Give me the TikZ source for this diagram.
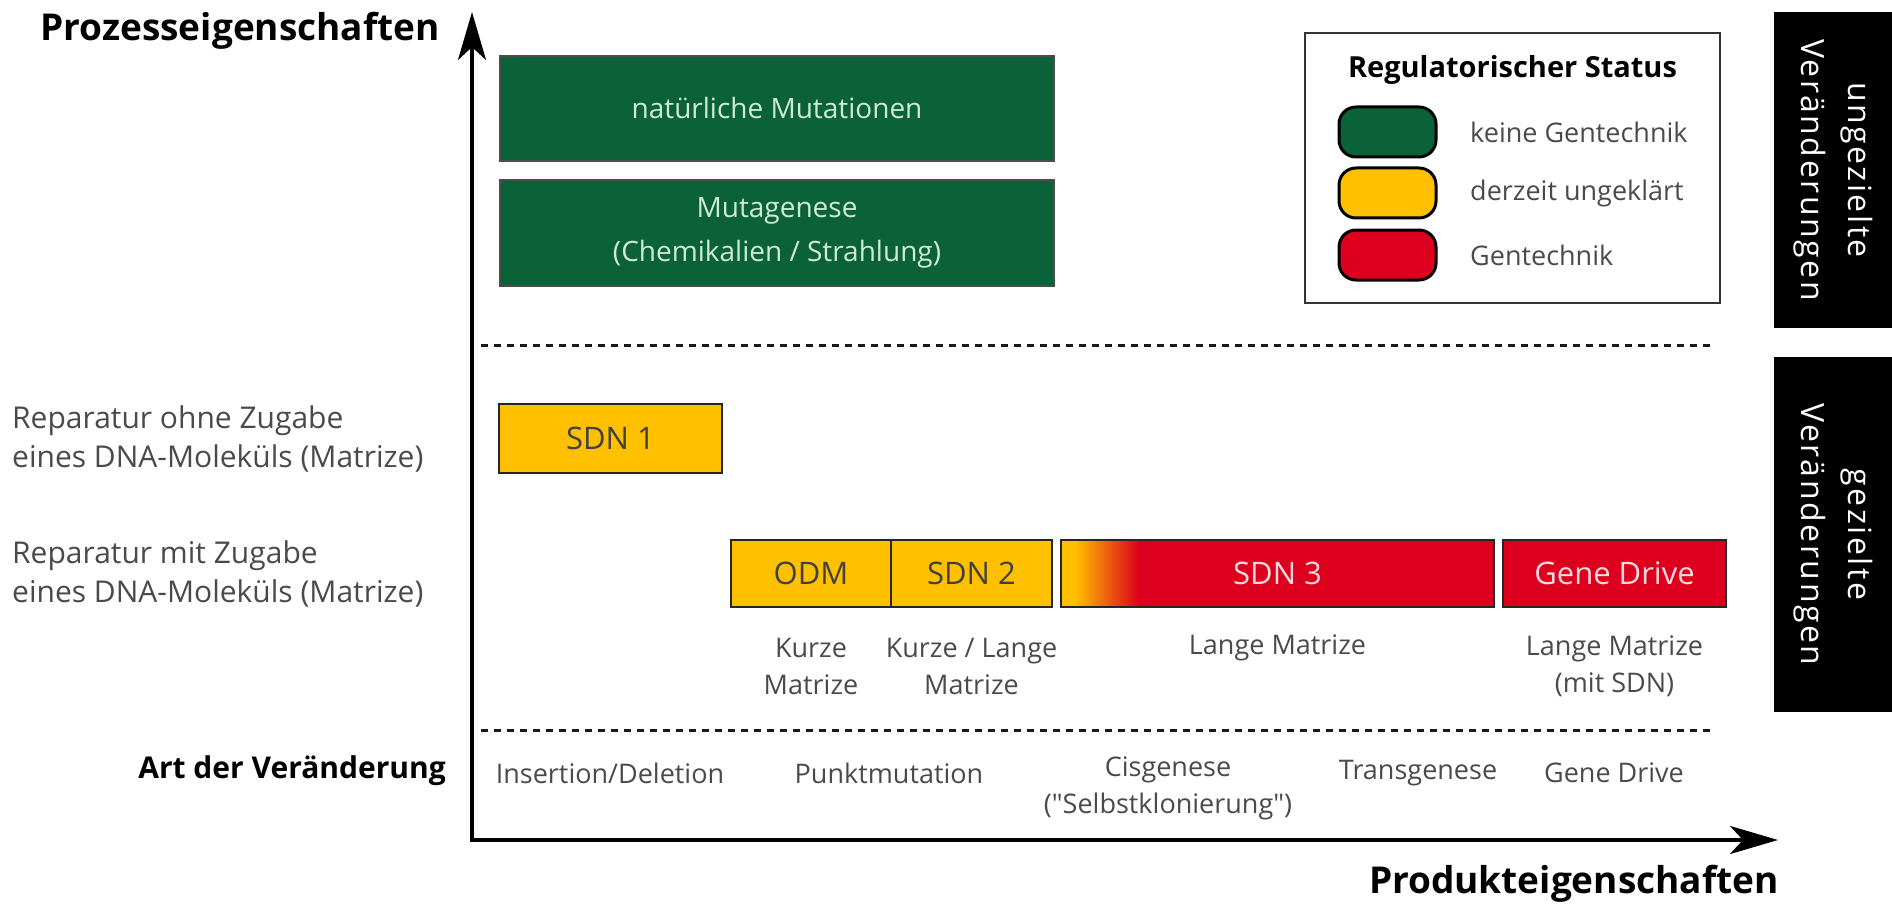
\documentclass[tikz,border=0pt]{standalone}
\usepackage{fontspec}
\setmainfont{Open Sans}
\newfontfamily\nolig{Open Sans}
\usetikzlibrary{arrows.meta}
\definecolor{gGreen}{HTML}{0C6238}
\definecolor{gYellow}{HTML}{FFC000}
\definecolor{gRed}{HTML}{DC001E}
\definecolor{gText}{HTML}{4A4A4A}
\definecolor{mint}{HTML}{CDEBD5}
\definecolor{pinkish}{HTML}{FFD9DE}
\newcommand\fs[2]{\fontsize{#1}{#2}\selectfont}
\newcommand\sq{{\nolig"}}
\begin{document}
\begin{tikzpicture}[x=1pt,y=-1pt,
  cbox/.style={draw=black!85, line width=2pt, inner sep=0pt, font=\fs{31}{36}},
  ybox/.style={cbox, fill=gYellow, text=black!75},
  rbox/.style={cbox, fill=gRed, text=pinkish},
  gbox/.style={draw=black!70, line width=2pt, fill=gGreen, text=mint, inner sep=0pt, align=center, font=\fs{28}{44}},
  lbl/.style={text=gText, font=\fs{30}{39}, align=left, inner sep=0pt, anchor=west},
  sublbl/.style={text=gText, font=\fs{27}{37}, align=center, inner sep=0pt},
  title/.style={font=\bfseries\fs{37}{42}, inner sep=0pt, anchor=base east},
  swatch/.style={draw=black, line width=3pt, rounded corners=17pt, minimum width=97pt, minimum height=50pt, inner sep=0pt},
  legtext/.style={text=gText, font=\fs{27}{32}, anchor=west, inner sep=0pt},
  bar/.style={fill=black, inner sep=0pt, minimum width=118pt},
  bartext/.style={text=white, rotate=-90, align=center, inner sep=0pt, font=\fs{32}{47}\addfontfeatures{LetterSpace=8}},
  dashline/.style={draw=black!90, line width=3pt, dash pattern=on 7pt off 6pt},
  axis/.style={line width=4pt, line join=miter, {Stealth[length=48pt, width=28pt, inset=13pt]}-{Stealth[length=48pt, width=28pt, inset=13pt]}}
]
\useasboundingbox (0,0) rectangle (1892,904);

% axes
\coordinate (ytop) at (472,12);
\coordinate (O) at (472,840);
\coordinate (xend) at (1778,840);
\draw[axis] (ytop) -- (O) -- (xend);

\node[title] (ylab) at (440,41) {Prozesseigenschaften};
\node[title] (xlab) at (1779,893) {Produkteigenschaften};

% dashed separators
\coordinate (d1a) at (481,345);
\coordinate (d1b) at (1716,345);
\coordinate (d2a) at (481,730);
\coordinate (d2b) at (1716,730);
\draw[dashline] (d1a) -- (d1b);
\draw[dashline] (d2a) -- (d2b);

% green boxes
\node[gbox, minimum width=554pt, minimum height=105pt] (nat) at (777,108.5) {natürliche Mutationen};
\node[gbox, minimum width=554pt, minimum height=106pt] (mut) at (777,233) {Mutagenese\\(Chemikalien / Strahlung)};

% SDN 1
\node[ybox, minimum width=223pt, minimum height=69pt] (sdn1) at (610.5,438.5) {SDN 1};

% row 2
\node[ybox, minimum width=160pt, minimum height=67pt] (odm) at (811,573.5) {ODM};
\node[ybox, minimum width=161pt, minimum height=67pt] (sdn2) at (971.5,573.5) {SDN 2};
\node[rbox, minimum width=433pt, minimum height=67pt,
  path picture={
    \fill[gYellow] (path picture bounding box.south west) rectangle ([xshift=14pt]path picture bounding box.north west);
    \shade[left color=gYellow, right color=gRed] ([xshift=14pt]path picture bounding box.south west) rectangle ([xshift=78pt]path picture bounding box.north west);
  }] (sdn3) at (1277.5,573.5) {SDN 3};
\node[rbox, minimum width=223pt, minimum height=67pt] (gd) at (1614.5,573.5) {Gene Drive};

% labels under row 2
\node[sublbl] (lodm) at (811,666.5) {Kurze\\Matrize};
\node[sublbl] (lsdn2) at (971.5,666.5) {Kurze / Lange\\Matrize};
\node[sublbl] (lsdn3) at (1277.5,648) {Lange Matrize};
\node[sublbl] (lgd) at (1614.5,666.5) {Lange Matrize\\(mit SDN)};

% left labels
\node[lbl] (rep1) at (12,438.5) {Reparatur ohne Zugabe\\eines DNA-Moleküls (Matrize)};
\node[lbl] (rep2) at (12,574) {Reparatur mit Zugabe\\eines DNA-Moleküls (Matrize)};
\node[font=\bfseries\fs{30}{34}, inner sep=0pt, anchor=east] (art) at (446,771) {Art der Veränderung};

% bottom row
\node[sublbl] (ins) at (610,773) {Insertion/Deletion};
\node[sublbl] (pkt) at (889,773) {Punktmutation};
\node[sublbl, anchor=north] (cis) at (1168,756) {Cisgenese\\(\sq Selbstklonierung\sq)};
\node[sublbl] (trans) at (1418,773) {Transgenese};
\node[sublbl] (gdr) at (1614,773) {Gene Drive};

% legend
\node[draw=black!80, line width=2pt, minimum width=415pt, minimum height=270pt, inner sep=0pt] (leg) at (1512.5,168) {};
\node[font=\bfseries\fs{29}{34}, inner sep=0pt] (legt) at (1512.5,70) {Regulatorischer Status};
\node[swatch, fill=gGreen] (sg) at (1387.5,132) {};
\node[swatch, fill=gYellow] (sy) at (1387.5,193) {};
\node[swatch, fill=gRed] (sr) at (1387.5,255) {};
\node[legtext] (tg) at (1470,132) {keine Gentechnik};
\node[legtext] (ty) at (1470,193) {derzeit ungeklärt};
\node[legtext] (tr) at (1470,255) {Gentechnik};

% black bars
\node[bar, minimum height=316pt] (bar1) at (1833,170) {};
\node[bartext] (bt1) at (bar1.center) {ungezielte\\Veränderungen};
\node[bar, minimum height=355pt] (bar2) at (1833,534.5) {};
\node[bartext] (bt2) at (bar2.center) {gezielte\\Veränderungen};
\end{tikzpicture}
\end{document}
